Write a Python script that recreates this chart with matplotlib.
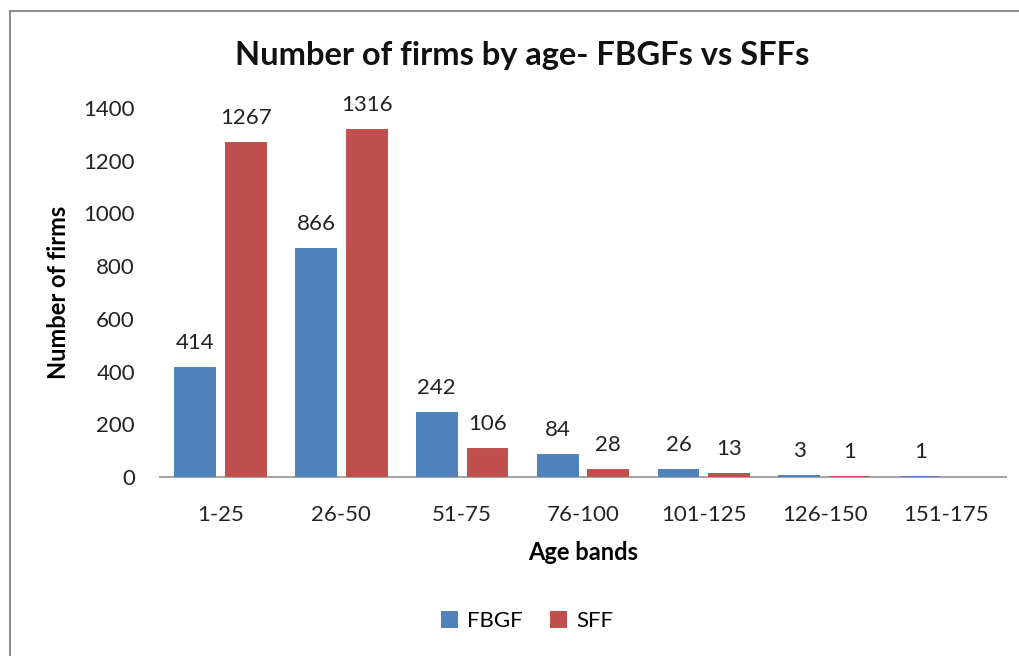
import matplotlib
matplotlib.use("Agg")
import matplotlib.pyplot as plt
import numpy as np
from matplotlib.lines import Line2D
from matplotlib.patches import Patch

categories = ["1-25", "26-50", "51-75", "76-100", "101-125", "126-150", "151-175"]
fbgf = [414, 866, 242, 84, 26, 3, 1]
sff = [1267, 1316, 106, 28, 13, 1, None]
series_names = ["FBGF", "SFF"]
yticks = [0, 200, 400, 600, 800, 1000, 1200, 1400]

BLUE = "#4F81BD"
RED = "#C0504D"

plt.rcParams['font.family'] = ['Lato', 'DejaVu Sans']

W, H = 1020, 656
fig = plt.figure(figsize=(W / 100, H / 100), dpi=100)

# plot area in pixels: x 160..1006, y 108..477
ax = fig.add_axes([160 / W, 1 - 477 / H, (1006 - 160) / W, (477 - 108) / H])

x = np.arange(len(categories))
bw = 0.33
off = 0.21
fv = np.array(fbgf, dtype=float)
sv = np.array([np.nan if v is None else v for v in sff], dtype=float)
ax.bar(x - off, fv, bw, color=BLUE, edgecolor=BLUE, linewidth=1.4, zorder=3)
mask = ~np.isnan(sv)
ax.bar((x + off)[mask], sv[mask], bw, color=RED, edgecolor=RED, linewidth=1.4, zorder=3)

for xi, v in zip(x - off, fbgf):
    ax.annotate(str(v), (xi, v), xytext=(0, 18), textcoords="offset points",
                ha="center", va="center", fontsize=16, color="#222222")
for xi, v in zip(x + off, sff):
    if v is None:
        continue
    ax.annotate(str(v), (xi, v), xytext=(0, 18), textcoords="offset points",
                ha="center", va="center", fontsize=16, color="#222222")

ax.set_xlim(-0.5, len(categories) - 0.5)
ax.set_ylim(0, 1400)
ax.set_yticks(yticks)
ax.set_yticklabels([str(t) for t in yticks], fontsize=16, color="#222222")
ax.set_xticks(x)
ax.set_xticklabels(categories, fontsize=16, color="#222222")
ax.tick_params(axis="y", length=0, pad=18)
ax.tick_params(axis="x", length=0, pad=20)
for s in ["top", "right", "left"]:
    ax.spines[s].set_visible(False)
ax.spines["bottom"].set_color("#A6A6A6")
ax.spines["bottom"].set_linewidth(1.5)
ax.spines["bottom"].set_zorder(2)

ax.set_xlabel("Age bands", fontsize=17, fontweight="bold", labelpad=12)
ax.set_ylabel("Number of firms", fontsize=17, fontweight="bold", labelpad=10)

fig.text(522 / W, 1 - 55 / H, "Number of firms by age- FBGFs vs SFFs",
         ha="center", va="center", fontsize=23.5, fontweight="bold", color="#111111")

handles = [Patch(facecolor=BLUE), Patch(facecolor=RED)]
fig.legend(handles, series_names, loc="center", bbox_to_anchor=(527 / W, 1 - 621 / H),
           ncol=2, frameon=False, fontsize=16, handlelength=0.8, handleheight=0.8,
           handletextpad=0.4, columnspacing=1.2)

# chart border (left and top lines)
fig.add_artist(Line2D([10 / W, 10 / W], [0, 1 - 11 / H], transform=fig.transFigure,
                      color="#8C8C8C", lw=1.5))
fig.add_artist(Line2D([10 / W, 1], [1 - 11 / H, 1 - 11 / H], transform=fig.transFigure,
                      color="#8C8C8C", lw=1.5))

fig.savefig("out.png", dpi=100)
